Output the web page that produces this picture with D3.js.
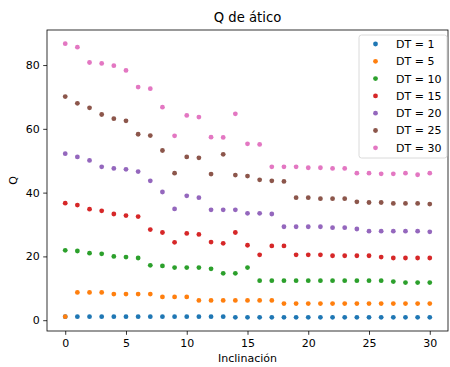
<!DOCTYPE html>
<html>
<head>
<meta charset="utf-8">
<script src="https://cdn.jsdelivr.net/npm/d3@7"></script>
<style>
  body { margin: 0; background: #fff; }
  svg { font-family: "DejaVu Sans", sans-serif; }
</style>
</head>
<body>
<svg id="chart" width="450" height="367"></svg>
<script>
const inclinacion = [0,1,2,3,4,5,6,7,8,9,10,11,12,13,14,15,16,17,18,19,20,21,22,23,24,25,26,27,28,29,30];

const dt1  = [1.1,1.1,1.1,1.1,1.1,1.1,1.1,1.1,1.1,1.1,1.1,1.1,1.1,1.1,0.9,0.9,0.9,0.9,0.9,0.9,0.9,0.9,0.9,0.9,0.9,0.9,0.9,0.9,0.9,0.9,0.9];
const dt5  = [1.1,8.7,8.7,8.7,8.2,8.2,8.2,8.2,7.3,7.3,7.3,6.2,6.2,6.2,6.2,6.2,6.2,6.2,5.2,5.2,5.2,5.2,5.2,5.2,5.2,5.2,5.2,5.2,5.2,5.2,5.2];
const dt10 = [21.9,21.7,21.0,20.8,20.0,19.8,19.5,17.2,17.0,16.5,16.5,16.5,16.1,14.7,14.7,16.5,12.4,12.4,12.4,12.4,12.4,12.4,12.4,12.4,12.4,12.4,12.4,12.1,11.8,11.8,11.8];
const dt15 = [36.7,36.1,34.8,34.3,33.3,32.8,32.5,28.4,27.5,24.4,27.2,26.9,24.5,24.1,27.5,23.5,20.5,23.3,23.3,20.5,20.5,20.5,20.2,20.2,20.2,20.2,19.8,19.5,19.5,19.5,19.5];
const dt20 = [52.2,51.2,50.1,48.1,47.6,47.3,46.6,43.7,40.2,34.9,39.0,38.4,34.6,34.6,34.6,33.5,33.5,33.3,29.3,29.3,29.3,29.3,29.0,29.0,28.6,27.9,27.9,27.9,27.9,27.9,27.7];
const dt25 = [70.1,68.0,66.6,64.5,63.2,62.5,58.3,57.9,53.2,46.1,51.2,50.9,45.8,52.0,45.5,45.2,44.0,43.7,43.5,38.4,38.4,38.1,38.1,38.1,37.1,36.9,36.9,36.6,36.6,36.6,36.4];
const dt30 = [86.7,85.6,80.8,80.5,79.8,78.3,73.1,72.6,66.8,57.8,64.2,63.7,57.4,57.3,64.7,55.3,55.1,48.1,48.1,48.1,47.8,47.8,47.6,47.6,46.1,46.1,45.9,45.9,46.1,45.6,46.1];

const seriesNames = ["DT = 1", "DT = 5", "DT = 10", "DT = 15", "DT = 20", "DT = 25", "DT = 30"];
const seriesValues = [dt1, dt5, dt10, dt15, dt20, dt25, dt30];
const colors = ["#1f77b4", "#ff7f0e", "#2ca02c", "#d62728", "#9467bd", "#8c564b", "#e377c2"];

const xTicks = [0, 5, 10, 15, 20, 25, 30];
const yTicks = [0, 20, 40, 60, 80];

const svg = d3.select("#chart");
const margin = { left: 47, right: 2, top: 30, bottom: 36 };
const width = +svg.attr("width");
const height = +svg.attr("height");

// margen de 5% como matplotlib
const allY = seriesValues.flat();
const yMin = d3.min(allY), yMax = d3.max(allY);
const yPad = (yMax - yMin) * 0.05;
const x = d3.scaleLinear().domain([-1.5, 31.5]).range([margin.left, width - margin.right]);
const y = d3.scaleLinear().domain([yMin - yPad, yMax + yPad]).range([height - margin.bottom, margin.top]);

// puntos
seriesValues.forEach((vals, i) => {
  svg.append("g")
    .selectAll("circle")
    .data(vals)
    .enter()
    .append("circle")
    .attr("cx", (d, j) => x(inclinacion[j]))
    .attr("cy", d => y(d))
    .attr("r", 2.4)
    .attr("fill", colors[i]);
});

// ejes
const xAxis = svg.append("g")
  .attr("transform", `translate(0,${height - margin.bottom})`)
  .call(d3.axisBottom(x).tickValues(xTicks).tickSize(3.8).tickPadding(4.5));
const yAxis = svg.append("g")
  .attr("transform", `translate(${margin.left},0)`)
  .call(d3.axisLeft(y).tickValues(yTicks).tickSize(3.8).tickPadding(3.5));

[xAxis, yAxis].forEach(a => {
  a.select(".domain").remove();
  a.selectAll("text").attr("font-size", 11).attr("font-family", "DejaVu Sans").attr("fill", "#000");
  a.selectAll("line").attr("stroke", "#000").attr("stroke-width", 0.8);
});

// marco
svg.append("rect")
  .attr("x", margin.left)
  .attr("y", margin.top)
  .attr("width", width - margin.left - margin.right)
  .attr("height", height - margin.top - margin.bottom)
  .attr("fill", "none")
  .attr("stroke", "#000")
  .attr("stroke-width", 0.8);

// titulo y etiquetas
const plotCx = (margin.left + width - margin.right) / 2;
svg.append("text")
  .attr("x", plotCx).attr("y", 22)
  .attr("text-anchor", "middle")
  .attr("font-size", 13.2)
  .text("Q de ático");

svg.append("text")
  .attr("x", plotCx).attr("y", 362)
  .attr("text-anchor", "middle")
  .attr("font-size", 11)
  .text("Inclinación");

svg.append("text")
  .attr("transform", `translate(17,${(margin.top + height - margin.bottom) / 2}) rotate(-90)`)
  .attr("text-anchor", "middle")
  .attr("font-size", 11)
  .text("Q");

// leyenda
const legend = svg.append("g").attr("transform", "translate(359,35)");
legend.append("rect")
  .attr("width", 88).attr("height", 123)
  .attr("rx", 2.5)
  .attr("fill", "#fff").attr("fill-opacity", 0.8)
  .attr("stroke", "#d0d0d0").attr("stroke-width", 0.8);

seriesNames.forEach((name, i) => {
  const row = legend.append("g").attr("transform", `translate(0,${9 + i * 17.3})`);
  row.append("circle").attr("cx", 16.5).attr("cy", 0).attr("r", 2.4).attr("fill", colors[i]);
  row.append("text")
    .attr("x", 37).attr("y", 0).attr("dy", "0.36em")
    .attr("font-size", 11)
    .text(name);
});
</script>
</body>
</html>
